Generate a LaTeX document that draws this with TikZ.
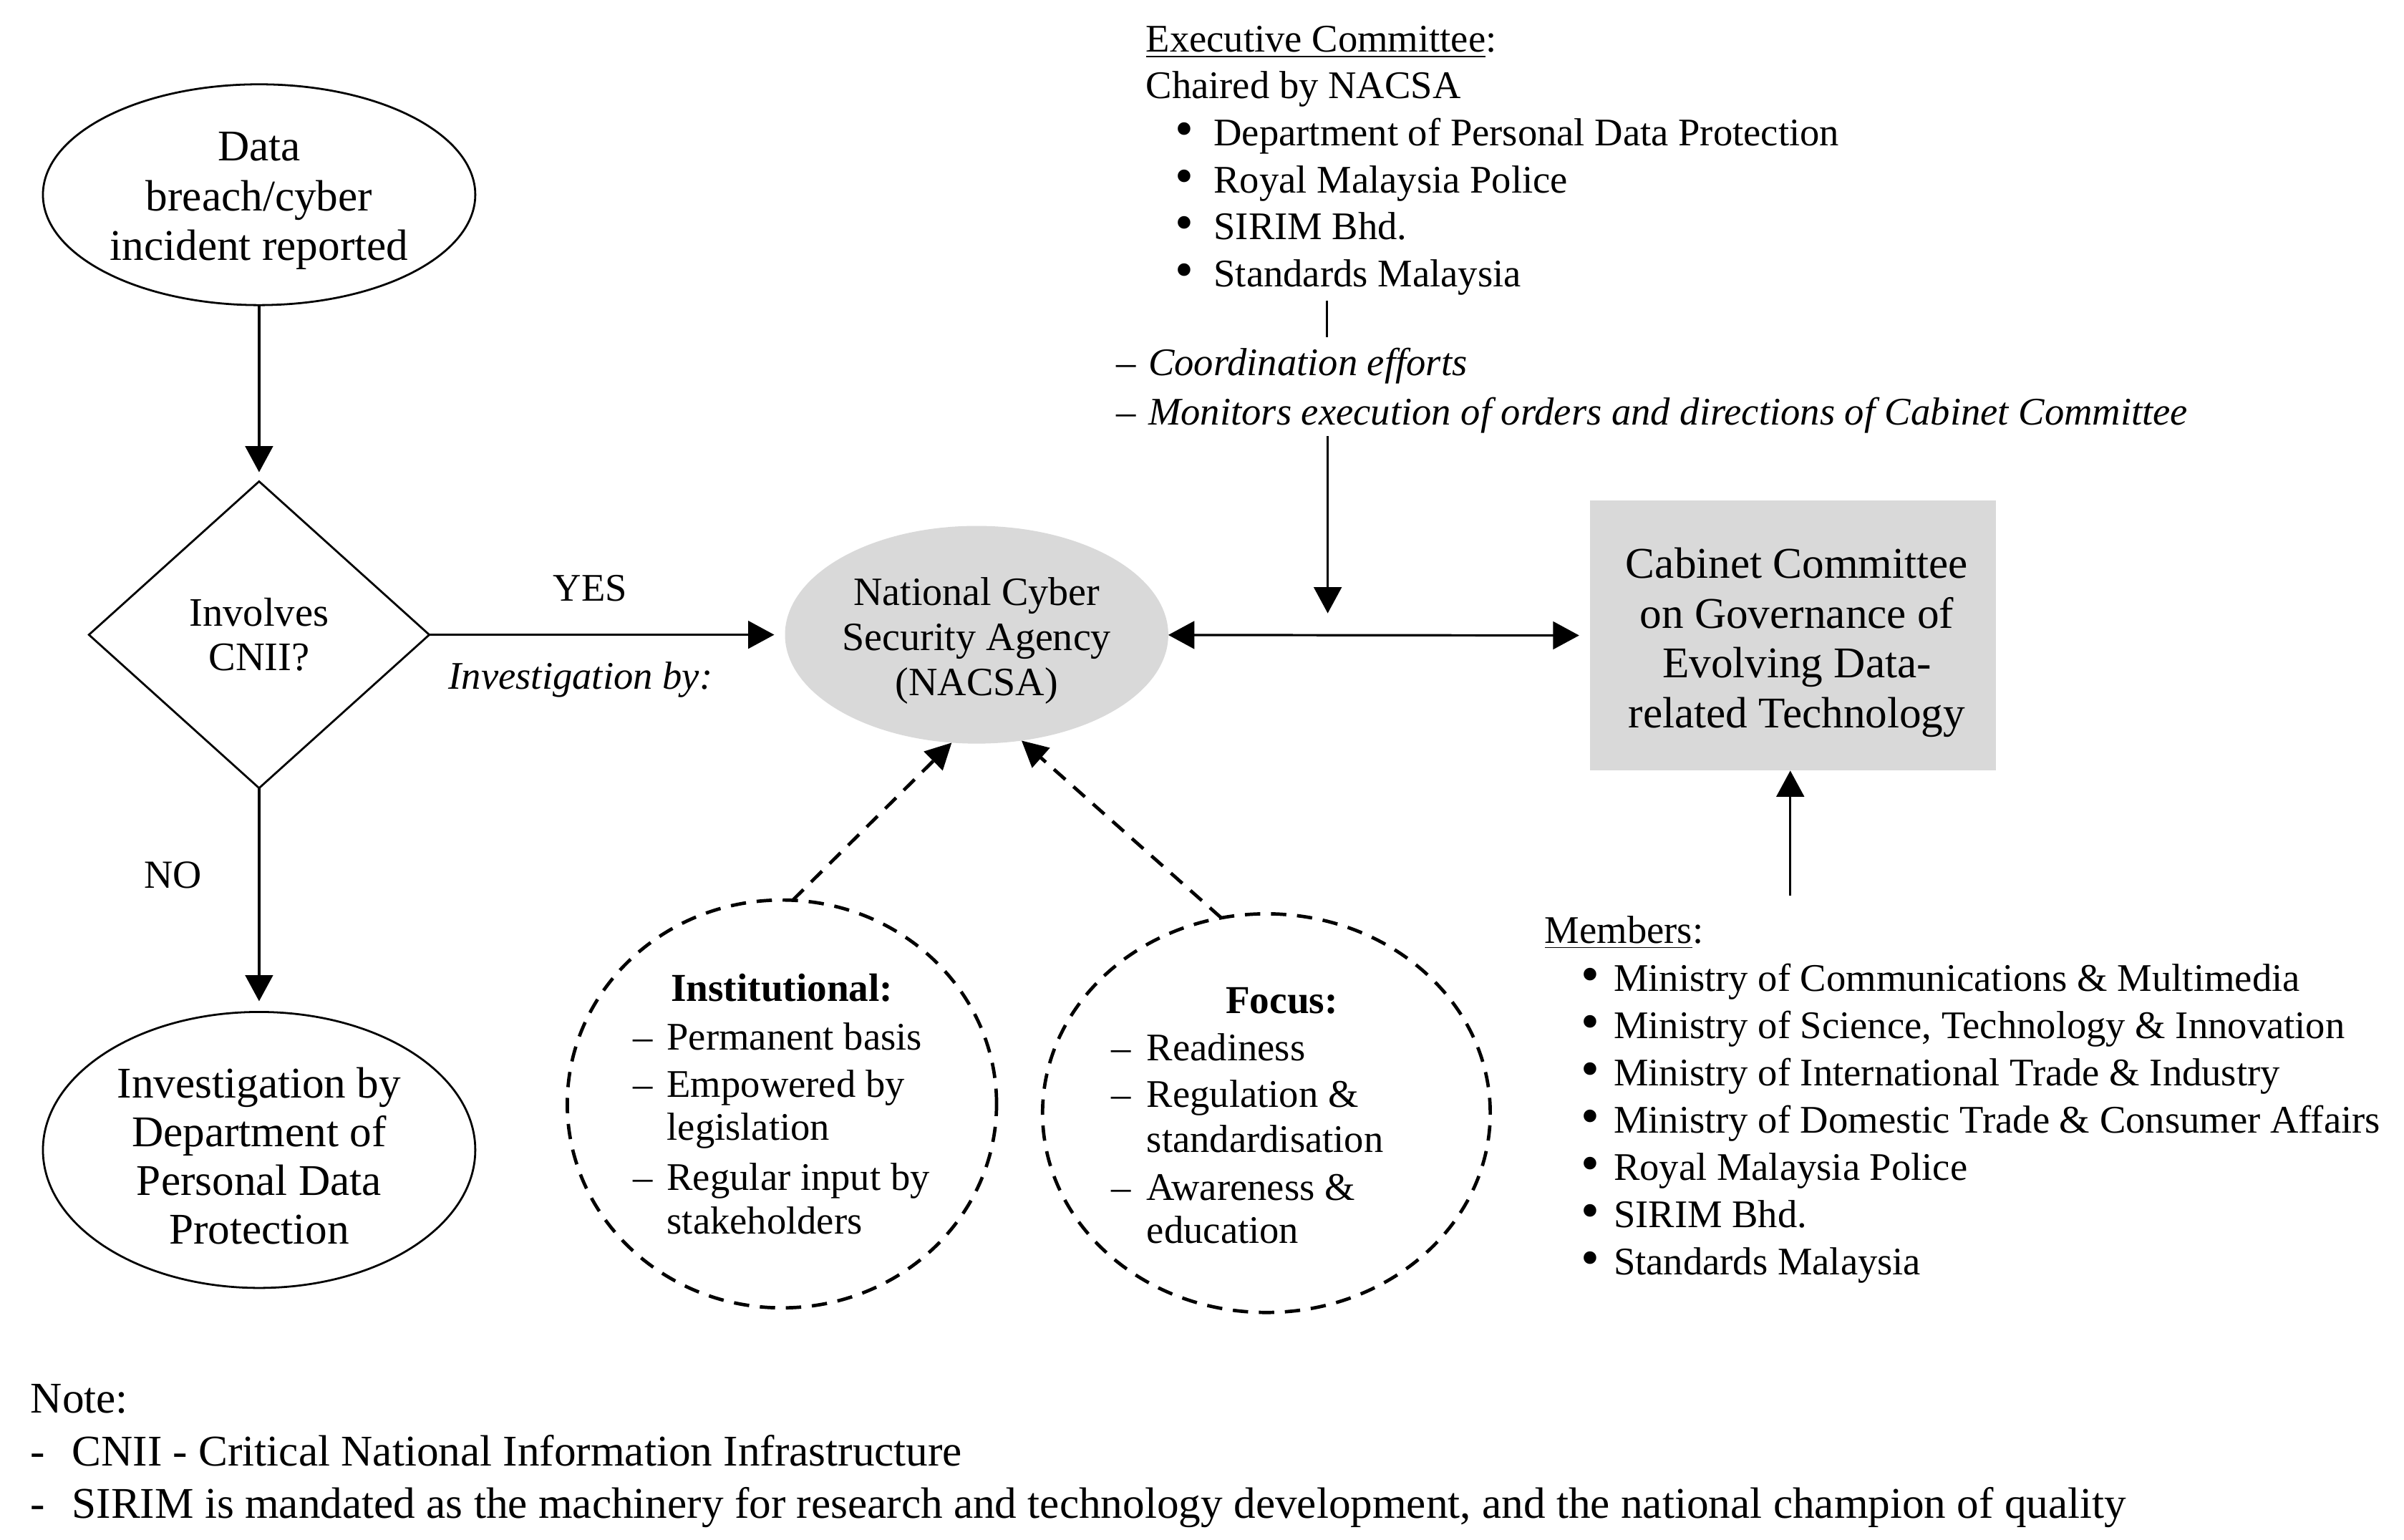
\documentclass[tikz,border=0pt]{standalone}
\usepackage{fontspec}
\setmainfont{Liberation Serif}
\usetikzlibrary{shapes.geometric,arrows.meta}
\definecolor{boxgray}{RGB}{217,217,217}
\newcommand{\mybul}{\raisebox{-0.2pt}{\scalebox{1.35}{\textbullet}}}
\begin{document}
\begin{tikzpicture}[x=0.5pt,y=-0.5pt,
  every node/.style={inner sep=0pt,outer sep=0pt},
  lbl/.style={font=\fontsize{12.75pt}{15.5pt}\selectfont,anchor=base west,text height=8.6pt,text depth=2.6pt},
  notelbl/.style={font=\fontsize{14.3pt}{17pt}\selectfont,anchor=base west,text height=9.6pt,text depth=3pt},
  bigtxt/.style={font=\fontsize{14.3pt}{16.3pt}\selectfont,align=center},
  ell/.style={ellipse,draw,line width=0.65pt},
  dell/.style={ellipse,draw,line width=1.1pt,dash pattern=on 5pt off 3.5pt},
  ln/.style={line width=0.75pt},
  arr/.style={ln,-{Triangle[length=8.5pt,width=9pt]}},
  dblarr/.style={ln,{Triangle[length=8.5pt,width=9pt]}-{Triangle[length=8.5pt,width=9pt]}},
  darr/.style={line width=1.1pt,dash pattern=on 5pt off 3.5pt,-{Triangle[length=8.5pt,width=8.5pt]}}
]
\useasboundingbox (0,0) rectangle (1568,1004);

% left flow
\node[ell,minimum width=141pt,minimum height=72pt] (start) at (169,127) {};
\node[bigtxt] (starttxt) at (169,131) {Data\\breach/cyber\\incident reported};
\node[diamond,draw,line width=0.65pt,minimum width=111pt,minimum height=100pt,align=center,
  font=\fontsize{13.2pt}{14.5pt}\selectfont] (dec) at (169,414) {Involves\\CNII?};
\node[ell,minimum width=141pt,minimum height=90pt] (pdp) at (169,750) {};
\node[bigtxt,font=\fontsize{14.3pt}{15.9pt}\selectfont] (pdptxt) at (169,754) {Investigation by\\Department of\\Personal Data\\Protection};

\draw[arr,shorten >=3pt] (start) -- (dec);
\draw[arr,shorten >=3.5pt] (dec) -- (pdp);
\node[font=\fontsize{13pt}{15pt}\selectfont] (no) at (113,571) {NO};

% NACSA
\node[ellipse,fill=boxgray,minimum width=125pt,minimum height=71pt] (nacsa) at (637,414) {};
\node[align=center,font=\fontsize{13.1pt}{14.75pt}\selectfont] (nacsatxt) at (637,418) {National Cyber\\Security Agency\\(NACSA)};
\draw[arr,shorten >=3.5pt] (dec) -- (nacsa);
\node[font=\fontsize{12.75pt}{15pt}\selectfont] (yes) at (385,383.6) {YES};
\node[font=\fontsize{12.75pt}{15pt}\selectfont\itshape] (invby) at (378.7,443.5) {Investigation by:};

% Cabinet
\node[rectangle,fill=boxgray,minimum width=132.5pt,minimum height=88pt] (cab) at (1169.5,414.6) {};
\node[bigtxt] (cabtxt) at (1172,419) {Cabinet Committee\\on Governance of\\Evolving Data-\\related Technology};
\draw[dblarr,shorten >=3.5pt] (nacsa) -- (cab);

% Executive committee
\node[lbl] (ex1) at (747.4,34) {\underline{Executive Committee}:};
\node[lbl] (ex2) at (747.4,64) {Chaired by NACSA};
\node[lbl] (ex3) at (766.5,95) {\makebox[12.6pt][l]{\mybul}Department of Personal Data Protection};
\node[lbl] (ex4) at (766.5,125.7) {\makebox[12.6pt][l]{\mybul}Royal Malaysia Police};
\node[lbl] (ex5) at (766.5,156.4) {\makebox[12.6pt][l]{\mybul}SIRIM Bhd.};
\node[lbl] (ex6) at (766.5,187) {\makebox[12.6pt][l]{\mybul}Standards Malaysia};
\coordinate (exC) at (865.5,196);
\coordinate (exD) at (865.5,220);
\draw[ln] (exC) -- (exD);
\node[lbl] (ex7) at (728,245) {\makebox[10.5pt][l]{\textendash}\textit{Coordination efforts}};
\node[lbl] (ex8) at (728,277) {\makebox[10.5pt][l]{\textendash}\textit{Monitors execution of orders and directions of Cabinet Committee}};
\coordinate (exA) at (866,284.6);
\coordinate (exB) at (866,400);
\draw[arr] (exA) -- (exB);

% Members
\node[lbl] (m0) at (1007.6,615) {\underline{Members}:};
\node[lbl] (m1) at (1031,646.7) {\makebox[10.75pt][l]{\mybul}Ministry of Communications \& Multimedia};
\node[lbl] (m2) at (1031,677.5) {\makebox[10.75pt][l]{\mybul}Ministry of Science, Technology \& Innovation};
\node[lbl] (m3) at (1031,708.2) {\makebox[10.75pt][l]{\mybul}Ministry of International Trade \& Industry};
\node[lbl] (m4) at (1031,739.0) {\makebox[10.75pt][l]{\mybul}Ministry of Domestic Trade \& Consumer Affairs};
\node[lbl] (m5) at (1031,769.8) {\makebox[10.75pt][l]{\mybul}Royal Malaysia Police};
\node[lbl] (m6) at (1031,800.6) {\makebox[10.75pt][l]{\mybul}SIRIM Bhd.};
\node[lbl] (m7) at (1031,831.3) {\makebox[10.75pt][l]{\mybul}Standards Malaysia};
\coordinate (memA) at (1167.7,584);
\draw[arr] (memA) -- (memA |- cab.south);

% dashed circles
\node[dell,minimum width=140pt,minimum height=133pt] (inst) at (510,720) {};
\node[dell,minimum width=146pt,minimum height=130pt] (focus) at (826,726) {};
\draw[darr] (inst.87) -- (nacsa.-103);
\draw[darr] (focus.103) -- (nacsa.-67);

\node[anchor=base,font=\fontsize{12.9pt}{15pt}\selectfont\bfseries] (i0) at (510,653) {Institutional:};
\node[lbl] (i1) at (413,685) {\makebox[11pt][l]{\textendash}Permanent basis};
\node[lbl] (i2) at (413,715.5) {\makebox[11pt][l]{\textendash}Empowered by};
\node[lbl] (i3) at (435,743.7) {legislation};
\node[lbl] (i4) at (413,776.5) {\makebox[11pt][l]{\textendash}Regular input by};
\node[lbl] (i5) at (435,804.7) {stakeholders};

\node[anchor=base,font=\fontsize{12.9pt}{15pt}\selectfont\bfseries] (f0) at (836,661) {Focus:};
\node[lbl] (f1) at (725,692) {\makebox[11.5pt][l]{\textendash}Readiness};
\node[lbl] (f2) at (725,722) {\makebox[11.5pt][l]{\textendash}Regulation \&};
\node[lbl] (f3) at (748,751.5) {standardisation};
\node[lbl] (f4) at (725,783) {\makebox[11.5pt][l]{\textendash}Awareness \&};
\node[lbl] (f5) at (748,811) {education};

% Note
\node[notelbl] (n0) at (20,921.5) {Note:};
\node[notelbl] (n1) at (20,956) {\makebox[13.5pt][l]{-}CNII - Critical National Information Infrastructure};
\node[notelbl] (n2) at (20,990) {\makebox[13.5pt][l]{-}SIRIM is mandated as the machinery for research and technology development, and the national champion of quality};
\end{tikzpicture}
\end{document}
